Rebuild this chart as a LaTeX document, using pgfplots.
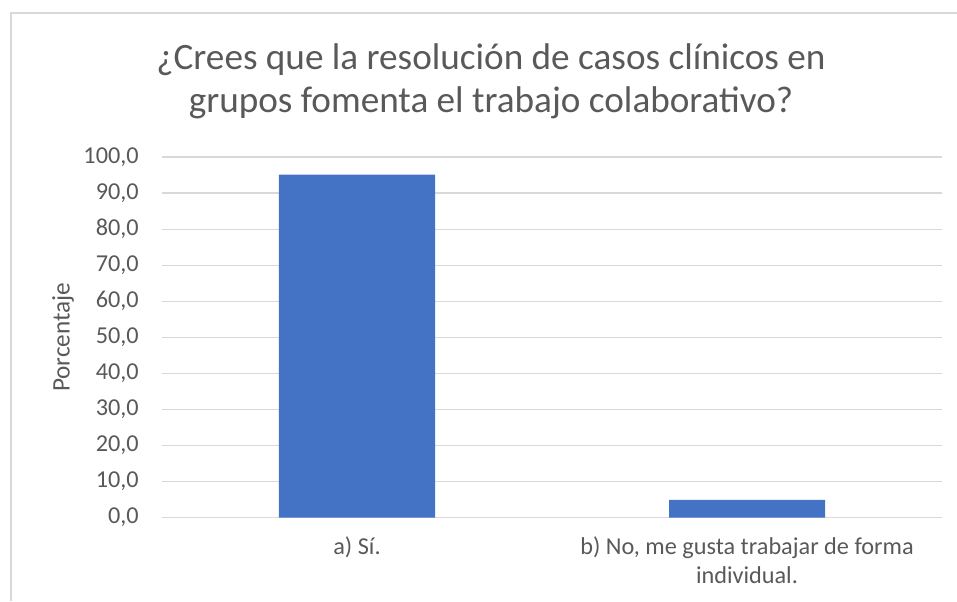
\documentclass[border=0pt]{standalone}
\usepackage{fontspec}
\setmainfont{Carlito}
\usepackage{pgfplots}
\pgfplotsset{compat=1.18}

\definecolor{barblue}{HTML}{4472C4}
\definecolor{txtgray}{HTML}{595959}
\definecolor{gridgray}{HTML}{D9D9D9}

\begin{document}
\begin{tikzpicture}
\path[use as bounding box] (0,0) rectangle (717.75pt,450.75pt);
% chart frame (only left and top edges visible)
\draw[gridgray, line width=0.9pt] (8.25pt,0) -- (8.25pt,441pt) -- (717.75pt,441pt);

% title
\node[anchor=base, text=txtgray, font=\fontsize{27.9pt}{34pt}\selectfont]
  at (368.25pt,398.25pt) {¿Crees que la resolución de casos clínicos en};
\node[anchor=base, text=txtgray, font=\fontsize{27.9pt}{34pt}\selectfont]
  at (368.25pt,366pt) {grupos fomenta el trabajo colaborativo?};

\begin{axis}[
    at={(121.5pt,62.5pt)}, anchor=south west,
    scale only axis,
    width=585pt, height=270.5pt,
    ybar, bar width=117pt,
    xmin=-0.5, xmax=1.5,
    ymin=0, ymax=100,
    xtick={0,1},
    xticklabels={{a) Sí.},{b) No, me gusta trabajar de forma\\individual.}},
    ytick distance=10,
    ymajorgrids,
    grid style={gridgray, line width=0.9pt},
    axis line style={draw=none},
    major tick length=0pt,
    tick label style={text=txtgray, font=\fontsize{18.2pt}{21.75pt}\selectfont},
    xticklabel style={align=center, anchor=north, inner sep=0pt, yshift=-14pt},
    yticklabel style={anchor=east, inner sep=0pt, xshift=-17.25pt},
    /pgf/number format/assume math mode=true,
    yticklabel={\pgfmathprintnumber[fixed, fixed zerofill, precision=1, use comma]{\tick}},
    ylabel={Porcentaje},
    ylabel style={at={(axis description cs:-0.1269,0.5)}, anchor=center,
      text=txtgray, font=\fontsize{18.9pt}{22pt}\selectfont},
]
\addplot[fill=barblue, draw=none] coordinates {(0,95.1) (1,4.9)};
\end{axis}
\end{tikzpicture}
\end{document}
